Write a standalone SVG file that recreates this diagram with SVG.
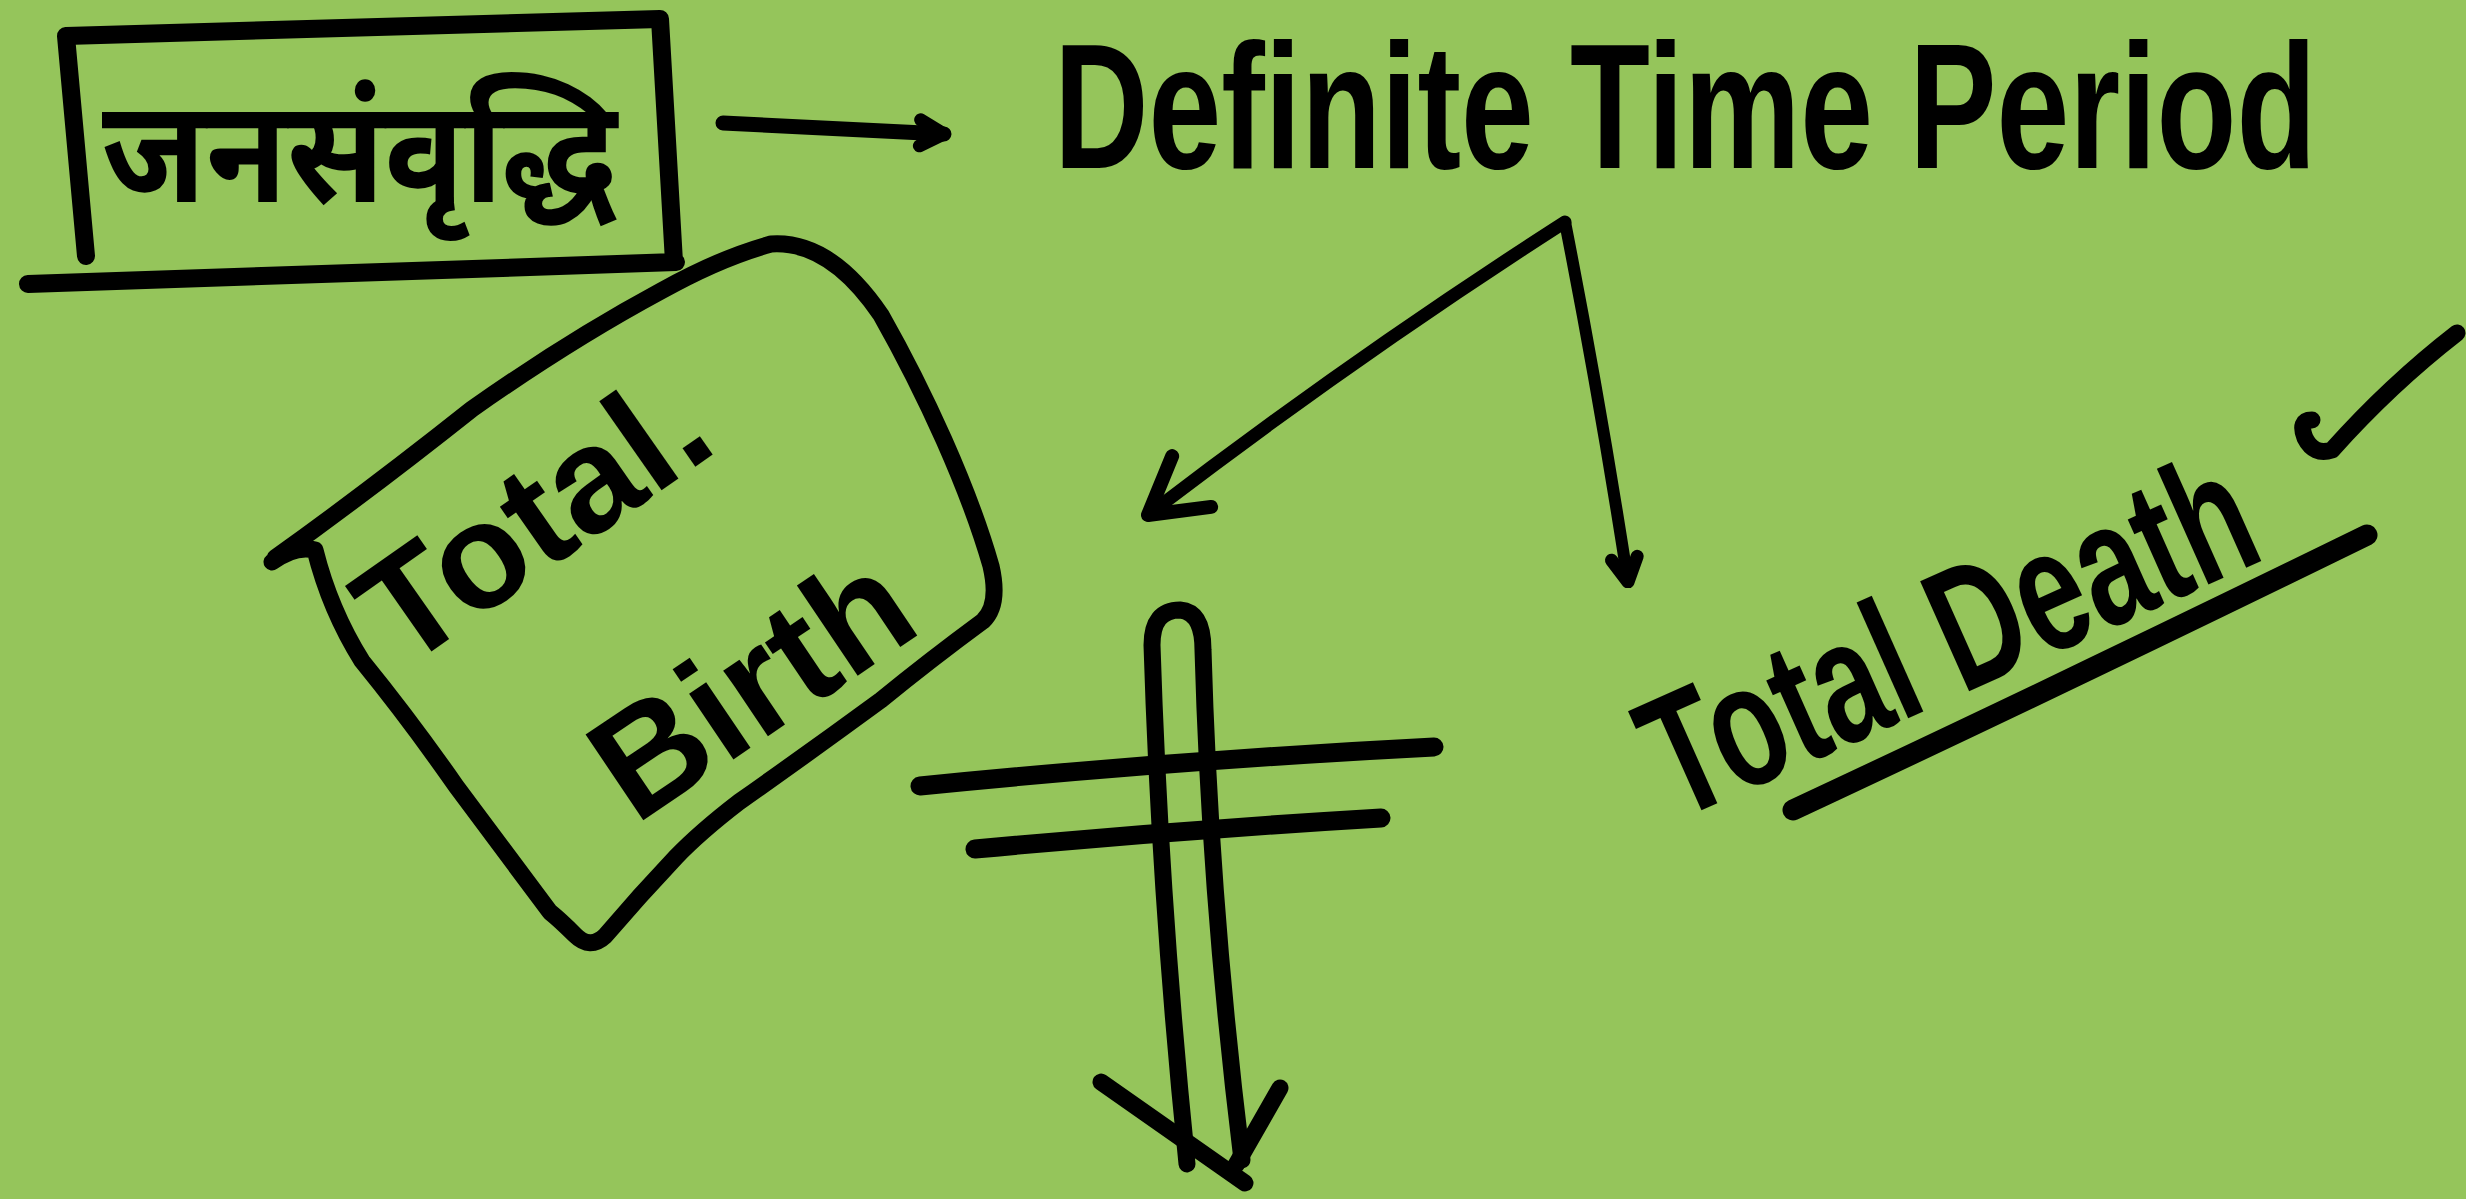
<svg xmlns="http://www.w3.org/2000/svg" width="2466" height="1199" viewBox="0 0 2466 1199">
<style>
.ink{fill:none;stroke:#000;stroke-linecap:round;stroke-linejoin:round}
.hand{font-family:"Liberation Sans","Noto Sans",sans-serif;font-weight:bold;fill:#000}
.deva{font-family:"Noto Sans Devanagari","Noto Sans","Lohit Devanagari","FreeSans",sans-serif;font-weight:bold;fill:#000}
</style>
<defs>
<marker id="ahSmall" viewBox="-34 -22 40 44" refX="0" refY="0" markerWidth="40" markerHeight="44" orient="auto" markerUnits="userSpaceOnUse">
<path d="M-24,-13 L0,0 L-24,13" fill="none" stroke="#000" stroke-width="13" stroke-linecap="round" stroke-linejoin="round"/>
</marker>
<marker id="ahLarge" viewBox="-72 -48 84 96" refX="0" refY="0" markerWidth="84" markerHeight="96" orient="auto" markerUnits="userSpaceOnUse">
<path d="M-55,-32 L0,0 L-55,32" fill="none" stroke="#000" stroke-width="14" stroke-linecap="round" stroke-linejoin="round"/>
</marker>
</defs>
<rect x="0" y="0" width="2466" height="1199" fill="#95C55B"/>

<g id="node-jansamvriddhi">
<path class="ink" stroke-width="18" d="M66,36 L660,19 L674,262 M66,36 L86,256 M28,284 L676,262"/>
<text class="deva" x="102" y="202" font-size="145" textLength="515" lengthAdjust="spacingAndGlyphs">जनसंवृद्धि</text>
</g>

<g id="node-definite-time-period">
<text class="hand" font-size="178" transform="translate(1054 168) scale(0.735 1)">Definite Time Period</text>
</g>

<g id="node-total-birth">
<path class="ink" stroke-width="17" d="M275,558 Q370,490 472,409 Q570,340 661,291 Q720,258 771,244 Q830,240 881,315 Q915,375 944,440 Q975,510 991,566 Q1000,605 983,621 Q930,660 881,700 Q810,752 739,802 Q700,832 676,857 Q640,895 605,936 Q590,950 575,935 Q560,920 550,912 Q500,845 456,786 Q410,720 362,661 Q330,610 315,550 Q295,545 272,562"/>
<text class="hand" x="562" y="560" font-size="150" text-anchor="middle" transform="rotate(-35 562 560)">Total.</text>
<text class="hand" x="780" y="728" font-size="150" text-anchor="middle" transform="rotate(-34 780 728)">Birth</text>
</g>

<g id="node-total-death">
<text class="hand" font-size="175" text-anchor="middle" transform="translate(1972 690) rotate(-24) scale(0.69 1)">Total Death</text>
<path class="ink" stroke-width="21" d="M1793,810 Q2050,690 2367,535"/>
<path class="ink" stroke-width="17" d="M2312,420 Q2298,420 2305,438 Q2314,456 2332,450 Q2390,385 2457,333"/>
</g>

<g id="node-cancel-cross">
<path class="ink" stroke-width="19" d="M920,786 Q1180,760 1434,747 M975,849 Q1180,830 1381,818"/>
</g>

<g id="connectors">
<path class="ink" stroke-width="15" d="M723,123 L944,134" marker-end="url(#ahSmall)"/>
<path class="ink" stroke-width="13" d="M1565,222 Q1350,360 1148,515" marker-end="url(#ahLarge)"/>
<path class="ink" stroke-width="12" d="M1565,222 Q1600,400 1628,582" marker-end="url(#ahSmall)"/>
<path class="ink" stroke-width="17" d="M1187,1164 Q1160,900 1152,645 Q1152,610 1180,610 Q1203,612 1203,650 Q1210,900 1242,1160"/>
<path class="ink" stroke-width="17" d="M1101,1082 L1245,1183 M1280,1088 L1236,1165"/>
</g>
</svg>
